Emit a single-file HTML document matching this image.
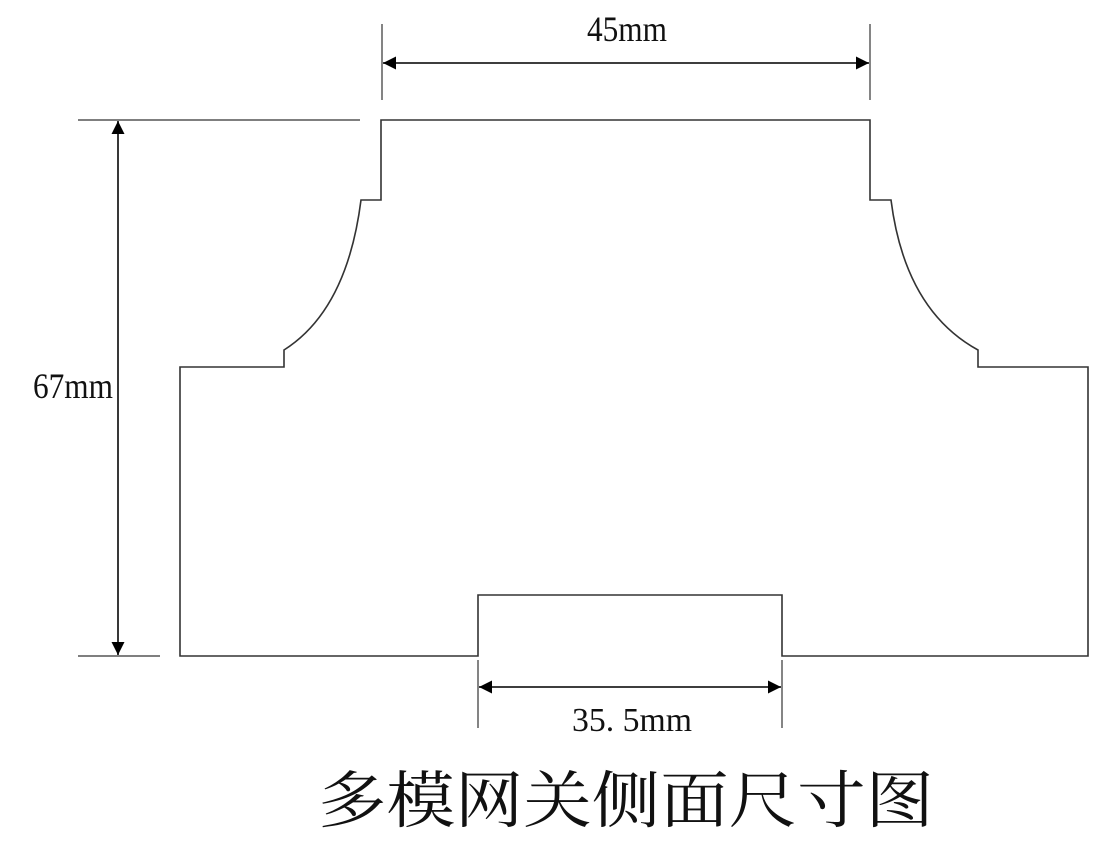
<!DOCTYPE html>
<html><head><meta charset="utf-8"><style>
html,body{margin:0;padding:0;background:#fff;}
svg{display:block;}
</style></head><body>
<svg width="1100" height="853" viewBox="0 0 1100 853" xmlns="http://www.w3.org/2000/svg">
<defs>
<marker id="a" viewBox="0 0 10 10" refX="10" refY="5" markerWidth="18" markerHeight="13" markerUnits="userSpaceOnUse" orient="auto-start-reverse">
<path d="M0,0 L10,5 L0,10 z" fill="#000"/>
</marker>
</defs>
<g fill="none" stroke="#333" stroke-width="1.6">
<path d="M381,120 L870,120 L870,200 L891,200 Q905,310 978,350 L978,367 L1088,367 L1088,656 L782,656 L782,595 L478,595 L478,656 L180,656 L180,367 L284,367 L284,350 Q347,310 361,200 L381,200 Z"/>
<line x1="382" y1="24" x2="382" y2="100" stroke-width="1.2"/>
<line x1="870" y1="24" x2="870" y2="100" stroke-width="1.2"/>
<line x1="78" y1="120" x2="360" y2="120" stroke-width="1.2"/>
<line x1="78" y1="656" x2="160" y2="656" stroke-width="1.2"/>
<line x1="478" y1="660" x2="478" y2="728" stroke-width="1.2"/>
<line x1="782" y1="660" x2="782" y2="728" stroke-width="1.2"/>
</g>
<g stroke="#222" stroke-width="1.8">
<line x1="383" y1="63" x2="869" y2="63" marker-start="url(#a)" marker-end="url(#a)"/>
<line x1="118" y1="121" x2="118" y2="655" marker-start="url(#a)" marker-end="url(#a)"/>
<line x1="479" y1="687" x2="781" y2="687" marker-start="url(#a)" marker-end="url(#a)"/>
</g>
<g font-family="'Liberation Serif', serif" fill="#111">
<text x="587" y="41" font-size="36" textLength="80" lengthAdjust="spacingAndGlyphs">45mm</text>
<text x="33" y="398" font-size="36" textLength="80" lengthAdjust="spacingAndGlyphs">67mm</text>
<text x="572" y="731" font-size="34" textLength="120" lengthAdjust="spacingAndGlyphs">35. 5mm</text>
</g>
<text x="318" y="822" font-family="'Liberation Serif','Noto Serif CJK SC',serif" font-size="62" fill="#111" textLength="616" lengthAdjust="spacingAndGlyphs">多模网关侧面尺寸图</text>
</svg>
</body></html>
